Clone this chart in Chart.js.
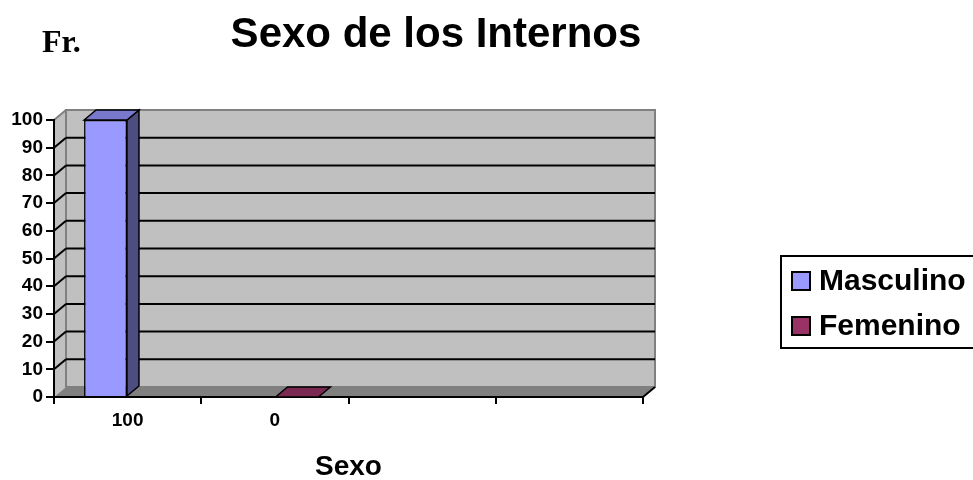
<!DOCTYPE html>
<html>
<head>
<meta charset="utf-8">
<script src="https://cdn.jsdelivr.net/npm/chart.js@4"></script>
<style>
  body { margin: 0; background: #fff; }
  canvas { display: block; }
</style>
</head>
<body>
<canvas id="chart" width="973" height="480"></canvas>
<script>
const categories = ['100', '0', '', '']
const masculino = [100, null, null, null]
const femenino = [null, 0, null, null]
const yTicks = [0, 10, 20, 30, 40, 50, 60, 70, 80, 90, 100]

const DX = 12
const DY = 10

const faces = {
  Masculino: { top: '#7878CC', side: '#4D4D80' },
  Femenino: { top: '#7A2952', side: '#4D1A33' }
}

function poly(ctx, pts, fill, stroke, lw) {
  ctx.beginPath()
  ctx.moveTo(pts[0][0], pts[0][1])
  for (let i = 1; i < pts.length; i++) ctx.lineTo(pts[i][0], pts[i][1])
  ctx.closePath()
  if (fill) { ctx.fillStyle = fill; ctx.fill() }
  if (stroke) { ctx.strokeStyle = stroke; ctx.lineWidth = lw || 1; ctx.stroke() }
}

function line(ctx, x1, y1, x2, y2, color, lw) {
  ctx.beginPath()
  ctx.moveTo(x1, y1)
  ctx.lineTo(x2, y2)
  ctx.strokeStyle = color
  ctx.lineWidth = lw
  ctx.stroke()
}

const walls = {
  id: 'walls',
  beforeDraw(chart) {
    const ctx = chart.ctx
    const { left: L, right: R, top: T, bottom: B } = chart.chartArea
    const y = chart.scales.y
    ctx.save()
    // back wall
    poly(ctx, [[L + DX, T - DY], [R + DX, T - DY], [R + DX, B - DY], [L + DX, B - DY]], '#C0C0C0', '#808080', 2)
    // left wall
    poly(ctx, [[L, B], [L + DX, B - DY], [L + DX, T - DY], [L, T]], '#C0C0C0')
    line(ctx, L, T, L + DX, T - DY, '#808080', 2)
    line(ctx, L + DX, T - DY, L + DX, B - DY, '#808080', 2)
    // floor
    poly(ctx, [[L, B], [L + DX, B - DY], [R + DX, B - DY], [R, B]], '#808080')
    line(ctx, R, B, R + DX, B - DY, '#000', 2)
    // gridlines
    yTicks.forEach(v => {
      if (v === 0 || v === 100) return
      const py = y.getPixelForValue(v)
      line(ctx, L, py, L + DX, py - DY, '#000', 2)
      line(ctx, L + DX, py - DY, R + DX, py - DY, '#000', 2)
    })
    ctx.restore()
  },
  afterDatasetsDraw(chart) {
    const ctx = chart.ctx
    ctx.save()
    chart.data.datasets.forEach((ds, i) => {
      const meta = chart.getDatasetMeta(i)
      meta.data.forEach((bar, j) => {
        if (ds.data[j] === null) return
        const p = bar.getProps(['x', 'y', 'base', 'width'], true)
        const l = p.x - p.width / 2
        const r = p.x + p.width / 2
        const f = faces[ds.label]
        if (p.base - p.y > 0.5) {
          poly(ctx, [[r, p.y], [r + DX, p.y - DY], [r + DX, p.base - DY], [r, p.base]], f.side, '#000', 1.5)
        }
        poly(ctx, [[l, p.y], [l + DX, p.y - DY], [r + DX, p.y - DY], [r, p.y]], f.top, '#000', 1.5)
      })
    })
    ctx.restore()
  },
  afterDraw(chart) {
    const ctx = chart.ctx
    ctx.save()
    ctx.fillStyle = '#000'
    ctx.textBaseline = 'alphabetic'
    ctx.textAlign = 'center'
    ctx.font = 'bold 42px "Liberation Sans", Arial, sans-serif'
    ctx.fillText('Sexo de los Internos', 436, 47)
    ctx.textAlign = 'left'
    ctx.font = 'bold 32px "Liberation Serif", "Times New Roman", serif'
    ctx.fillText('Fr.', 42, 52)

    // legend
    ctx.strokeStyle = '#000'
    ctx.lineWidth = 2
    ctx.strokeRect(781, 256, 210, 92)
    ctx.font = 'bold 30px "Liberation Sans", Arial, sans-serif'
    ctx.textBaseline = 'middle'
    chart.data.datasets.forEach((ds, i) => {
      const cy = 281 + i * 45
      ctx.fillStyle = ds.backgroundColor
      ctx.fillRect(792, cy - 9, 18, 18)
      ctx.lineWidth = 2
      ctx.strokeRect(792, cy - 9, 18, 18)
      ctx.fillStyle = '#000'
      ctx.fillText(ds.label, 819, cy + 1)
    })
    ctx.restore()
  }
}

new Chart(document.getElementById('chart'), {
  type: 'bar',
  data: {
    labels: categories,
    datasets: [
      { label: 'Masculino', data: masculino, backgroundColor: '#9999FF', borderColor: '#000', borderWidth: 1.5 },
      { label: 'Femenino', data: femenino, backgroundColor: '#993366', borderColor: '#000', borderWidth: 1.5 }
    ]
  },
  options: {
    responsive: false,
    animation: false,
    categoryPercentage: 0.6,
    barPercentage: 0.97,
    layout: { padding: { top: 120, right: 330, bottom: 0, left: 0 } },
    plugins: {
      legend: { display: false },
      tooltip: { enabled: false }
    },
    scales: {
      x: {
        offset: true,
        afterFit(scale) { scale.height = 83 },
        grid: { offset: true, drawOnChartArea: false, tickLength: 7, color: '#000', lineWidth: 2 },
        border: { color: '#000', width: 2 },
        ticks: { color: '#000', padding: 5, font: { family: '"Liberation Sans", Arial', size: 19, weight: 'bold' } },
        title: {
          display: true,
          text: 'Sexo',
          color: '#000',
          padding: { top: 0, bottom: -4 },
          font: { family: '"Liberation Sans", Arial', size: 28, weight: 'bold' }
        }
      },
      y: {
        min: 0,
        max: 100,
        afterFit(scale) { scale.width = 54 },
        grid: { drawOnChartArea: false, tickLength: 8, color: '#000', lineWidth: 2 },
        border: { color: '#000', width: 2 },
        ticks: { stepSize: 10, color: '#000', padding: 3, font: { family: '"Liberation Sans", Arial', size: 19, weight: 'bold' } }
      }
    }
  },
  plugins: [walls]
})
</script>
</body>
</html>
